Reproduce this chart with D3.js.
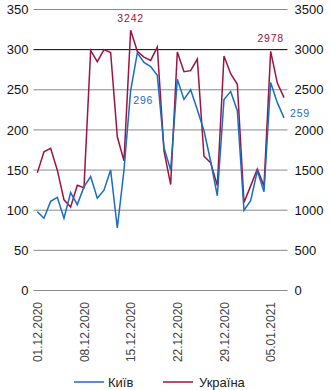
<!DOCTYPE html>
<html>
<head>
<meta charset="utf-8">
<script src="https://cdn.jsdelivr.net/npm/d3@7"></script>
<style>
  body { margin: 0; background: #fff; }
  svg { display: block; font-family: 'Liberation Sans', Arial, sans-serif; }
</style>
</head>
<body>
<svg id="chart" width="331" height="390"></svg>
<script>
const dates = [
  '01.12.2020', '02.12.2020', '03.12.2020', '04.12.2020', '05.12.2020', '06.12.2020', '07.12.2020',
  '08.12.2020', '09.12.2020', '10.12.2020', '11.12.2020', '12.12.2020', '13.12.2020', '14.12.2020',
  '15.12.2020', '16.12.2020', '17.12.2020', '18.12.2020', '19.12.2020', '20.12.2020', '21.12.2020',
  '22.12.2020', '23.12.2020', '24.12.2020', '25.12.2020', '26.12.2020', '27.12.2020', '28.12.2020',
  '29.12.2020', '30.12.2020', '31.12.2020', '01.01.2021', '02.01.2021', '03.01.2021', '04.01.2021',
  '05.01.2021', '06.01.2021', '07.01.2021'
]
const kyiv = [
  98, 90, 111, 116, 90, 122, 107, 129, 142, 115, 125, 150, 78, 150,
  249, 296, 284, 279, 268, 178, 150, 263, 238, 250, 225, 199, 161, 118,
  238, 248, 224, 100, 112, 149, 123, 259, 234, 215
]
const ukraine = [
  1465, 1728, 1770, 1500, 1130, 1040, 1310, 1280, 2990, 2850, 3000, 2965, 1915, 1617,
  3242, 2980, 2907, 2866, 3031, 1740, 1320, 2970, 2725, 2738, 2882, 1672, 1592, 1306,
  2920, 2700, 2568, 1095, 1303, 1514, 1300, 2978, 2584, 2403
]
const tickDates = ['01.12.2020', '08.12.2020', '15.12.2020', '22.12.2020', '29.12.2020', '05.01.2021']
const leftTicks = [0, 50, 100, 150, 200, 250, 300, 350]
const rightTicks = [0, 500, 1000, 1500, 2000, 2500, 3000, 3500]
const seriesNames = ['Київ', 'Україна']
const labels = [
  { series: 'ukraine', date: '15.12.2020', text: '3242' },
  { series: 'kyiv', date: '16.12.2020', text: '296' },
  { series: 'ukraine', date: '05.01.2021', text: '2978' },
  { series: 'kyiv', date: '07.01.2021', text: '259' }
]

const parse = d3.timeParse('%d.%m.%Y')
const blue = '#1a6cc4'
const red = '#a0123f'

const svg = d3.select('#chart')

const x = d3.scaleTime()
  .domain([parse(dates[0]), parse(dates[dates.length - 1])])
  .range([37.3, 284])

const yLeft = d3.scaleLinear().domain([0, 350]).range([290.5, 9.5])
const yRight = d3.scaleLinear().domain([0, 3500]).range([290.5, 9.5])

// grid
svg.append('g')
  .selectAll('line').data(leftTicks).enter().append('line')
  .attr('x1', 33.5)
  .attr('x2', 287.5)
  .attr('y1', d => yLeft(d))
  .attr('y2', d => yLeft(d))
  .attr('stroke', d => d === 300 ? '#000' : '#8a8a8a')
  .attr('stroke-width', 1)

// left axis
svg.append('g')
  .attr('transform', 'translate(33.5,0)')
  .call(d3.axisLeft(yLeft).tickValues(leftTicks).tickFormat(d3.format('d')).tickSize(0).tickPadding(5))
  .call(g => g.select('.domain').remove())
  .call(g => g.selectAll('text').attr('font-size', 13).attr('fill', '#111').attr('font-family', null))

// right axis
svg.append('g')
  .attr('transform', 'translate(287.5,0)')
  .call(d3.axisRight(yRight).tickValues(rightTicks).tickFormat(d3.format('d')).tickSize(0).tickPadding(7))
  .call(g => g.select('.domain').remove())
  .call(g => g.selectAll('text').attr('font-size', 13).attr('fill', '#111').attr('font-family', null))

// x axis
svg.append('g')
  .attr('transform', 'translate(0,296)')
  .call(d3.axisBottom(x).tickValues(tickDates.map(parse)).tickFormat(d3.timeFormat('%d.%m.%Y')).tickSize(0))
  .call(g => g.select('.domain').remove())
  .call(g => g.selectAll('text')
    .attr('font-size', 12)
    .attr('fill', '#444')
    .attr('font-family', null)
    .attr('transform', 'rotate(-90)')
    .attr('text-anchor', 'end')
    .attr('x', -6)
    .attr('y', 0)
    .attr('dy', '0.35em'))

const lineKyiv = d3.line()
  .x((d, i) => x(parse(dates[i])))
  .y(d => yLeft(d))
const lineUkr = d3.line()
  .x((d, i) => x(parse(dates[i])))
  .y(d => yRight(d))

svg.append('path')
  .datum(ukraine)
  .attr('d', lineUkr)
  .attr('fill', 'none')
  .attr('stroke', red)
  .attr('stroke-width', 1.5)

svg.append('path')
  .datum(kyiv)
  .attr('d', lineKyiv)
  .attr('fill', 'none')
  .attr('stroke', blue)
  .attr('stroke-width', 1.5)

// value labels
const offsets = {
  '3242': [0, -8, 'middle'],
  '296': [-4, 51, 'start'],
  '2978': [0, -9, 'middle'],
  '259': [6, -1, 'start']
}
svg.append('g')
  .selectAll('text').data(labels).enter().append('text')
  .attr('x', d => x(parse(d.date)) + offsets[d.text][0])
  .attr('y', d => {
    const i = dates.indexOf(d.date)
    const yy = d.series === 'kyiv' ? yLeft(kyiv[i]) : yRight(ukraine[i])
    return yy + offsets[d.text][1]
  })
  .attr('text-anchor', d => offsets[d.text][2])
  .attr('font-size', 10.5)
  .attr('letter-spacing', 0.8)
  .attr('fill', d => d.series === 'kyiv' ? blue : red)
  .text(d => d.text)

// legend
const legend = svg.append('g')
  .selectAll('g').data(seriesNames).enter().append('g')
  .attr('transform', (d, i) => `translate(${i === 0 ? 74 : 163},382)`)
legend.append('line')
  .attr('x1', 0).attr('x2', 30)
  .attr('stroke', (d, i) => i === 0 ? blue : red)
  .attr('stroke-width', 1.5)
legend.append('text')
  .attr('x', (d, i) => i === 0 ? 34 : 36)
  .attr('dy', '0.35em')
  .attr('font-size', 13)
  .attr('fill', '#222')
  .text(d => d)
</script>
</body>
</html>
